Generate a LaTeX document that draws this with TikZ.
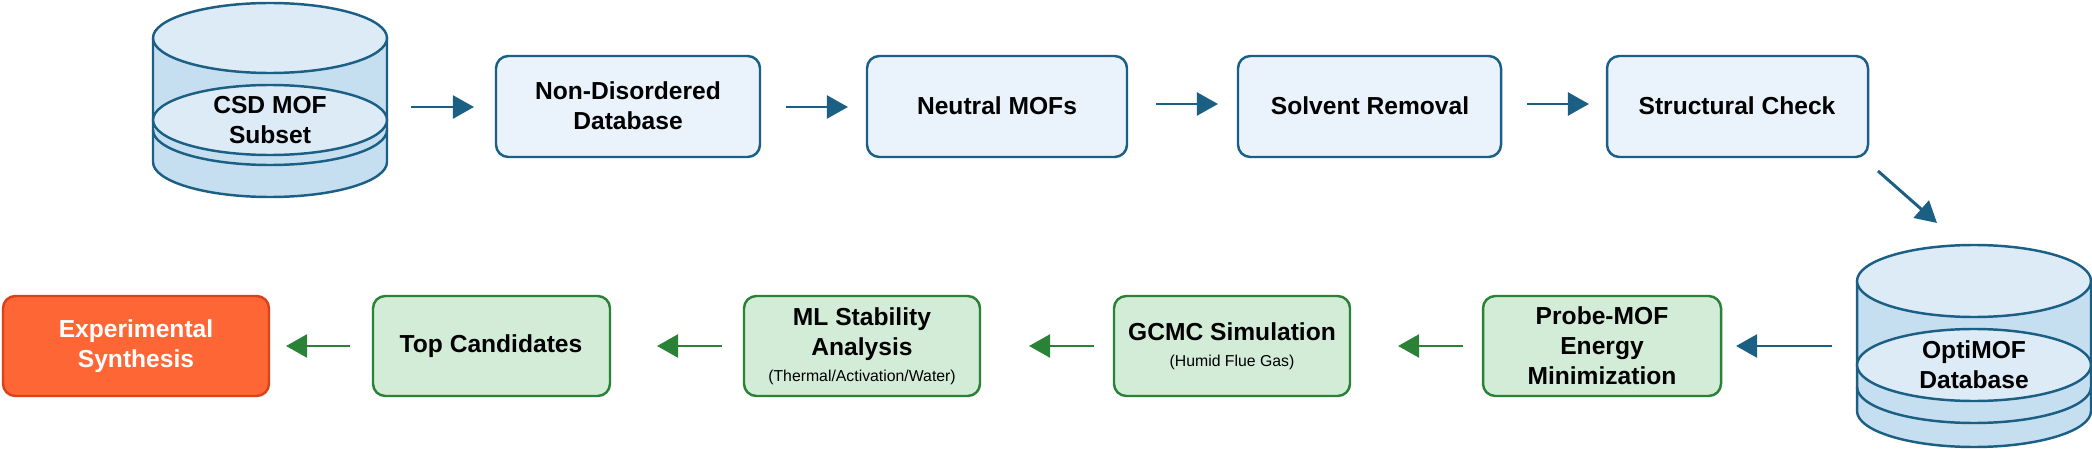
\documentclass[tikz,border=0pt]{standalone}
\usepackage{fontspec}
\setmainfont{Liberation Sans}
\usetikzlibrary{arrows.meta}
\definecolor{bl}{HTML}{1B5F85}
\definecolor{bfill}{HTML}{EAF3FB}
\definecolor{ctop}{HTML}{DDEBF7}
\definecolor{cside}{HTML}{C6DFF0}
\definecolor{gr}{HTML}{2A8236}
\definecolor{gfill}{HTML}{D3ECD8}
\definecolor{rfill}{HTML}{FF6635}
\definecolor{rdraw}{HTML}{D9431C}
\newcommand\dbcyl[7]{% cx rx ry top mid int bot
 \fill[cside] (#1-#2,#4) -- (#1-#2,#7) arc[start angle=180,end angle=0,x radius=#2,y radius=#3] -- (#1+#2,#4) -- cycle;
 \draw[bl,line width=1.4pt] (#1-#2,#4) -- (#1-#2,#7) arc[start angle=180,end angle=0,x radius=#2,y radius=#3] -- (#1+#2,#4);
 \draw[bl,line width=1.4pt] (#1-#2,#6) arc[start angle=180,end angle=0,x radius=#2,y radius=#3];
 \draw[bl,line width=1.4pt,fill=ctop] (#1,#4) ellipse[x radius=#2,y radius=#3];
 \draw[bl,line width=1.4pt,fill=ctop] (#1,#5) ellipse[x radius=#2,y radius=#3];
}
\begin{document}
\begin{tikzpicture}[x=0.02cm,y=-0.02cm,
 bbox/.style={draw=bl,fill=bfill,line width=1.4pt,rounded corners=7pt,align=center,font=\fontsize{14}{17}\selectfont\bfseries},
 gbox/.style={draw=gr,fill=gfill,line width=1.4pt,rounded corners=7pt,align=center,font=\fontsize{14}{17}\selectfont\bfseries},
 txt/.style={align=center,font=\fontsize{14}{17}\selectfont\bfseries},
 barr/.style={bl,line width=1.7pt,-{Triangle[length=12pt,width=13pt]}},
 garr/.style={gr,line width=1.7pt,-{Triangle[length=12pt,width=13pt]}}]
\useasboundingbox (0,0) rectangle (2092,449);
\dbcyl{270}{117}{35}{38}{120}{130}{162}
\node[txt] (csd) at (270,120) {CSD MOF\\Subset};
\dbcyl{1974}{117}{36}{281}{365}{387}{411}
\node[txt] (opti) at (1974,365) {OptiMOF\\Database};
\path[bbox] (496,56) rectangle (760,157); \node[txt] (n1) at (628,106) {Non-Disordered\\Database};
\path[bbox] (867,56) rectangle (1127,157); \node[txt] (n2) at (997,106) {Neutral MOFs};
\path[bbox] (1238,56) rectangle (1501,157); \node[txt] (n3) at (1370,106) {Solvent Removal};
\path[bbox] (1607,56) rectangle (1868,157); \node[txt] (n4) at (1737,106) {Structural Check};
\path[gbox] (1483,296) rectangle (1721,396); \node[txt] (m1) at (1602,346) {Probe-MOF\\Energy\\Minimization};
\path[gbox] (1114,296) rectangle (1350,396); \node[txt,align=center] (m2) at (1232,346) {GCMC Simulation\\[-2pt]{\fontsize{9}{11}\selectfont\mdseries (Humid Flue Gas)}};
\path[gbox] (744,296) rectangle (980,396); \node[txt] (m3) at (862,346) {ML Stability\\Analysis\\[-2pt]{\fontsize{9}{11}\selectfont\mdseries (Thermal/Activation/Water)}};
\path[gbox] (373,296) rectangle (610,396); \node[txt] (m4) at (491,346) {Top Candidates};
\path[draw=rdraw,fill=rfill,line width=1.4pt,rounded corners=7pt] (3,296) rectangle (269,396); \node[txt,white] (m5) at (136,346) {Experimental\\Synthesis};
\coordinate (a1) at (411,107); \coordinate (b1) at (474,107);
\coordinate (a2) at (786,107); \coordinate (b2) at (848,107);
\coordinate (a3) at (1156,104); \coordinate (b3) at (1218,104);
\coordinate (a4) at (1527,104); \coordinate (b4) at (1589,104);
\coordinate (a5) at (1878,171); \coordinate (b5) at (1937,223);
\draw[barr] (a1) -- (b1); \draw[barr] (a2) -- (b2); \draw[barr] (a3) -- (b3); \draw[barr] (a4) -- (b4); \draw[barr] (a5) -- (b5);
\coordinate (c1) at (1832,346); \coordinate (d1) at (1736,346);
\coordinate (c2) at (1463,346); \coordinate (d2) at (1398,346);
\coordinate (c3) at (1094,346); \coordinate (d3) at (1029,346);
\coordinate (c4) at (722,346); \coordinate (d4) at (657,346);
\coordinate (c5) at (350,346); \coordinate (d5) at (286,346);
\draw[barr] (c1) -- (d1); \draw[garr] (c2) -- (d2); \draw[garr] (c3) -- (d3); \draw[garr] (c4) -- (d4); \draw[garr] (c5) -- (d5);
\end{tikzpicture}
\end{document}
